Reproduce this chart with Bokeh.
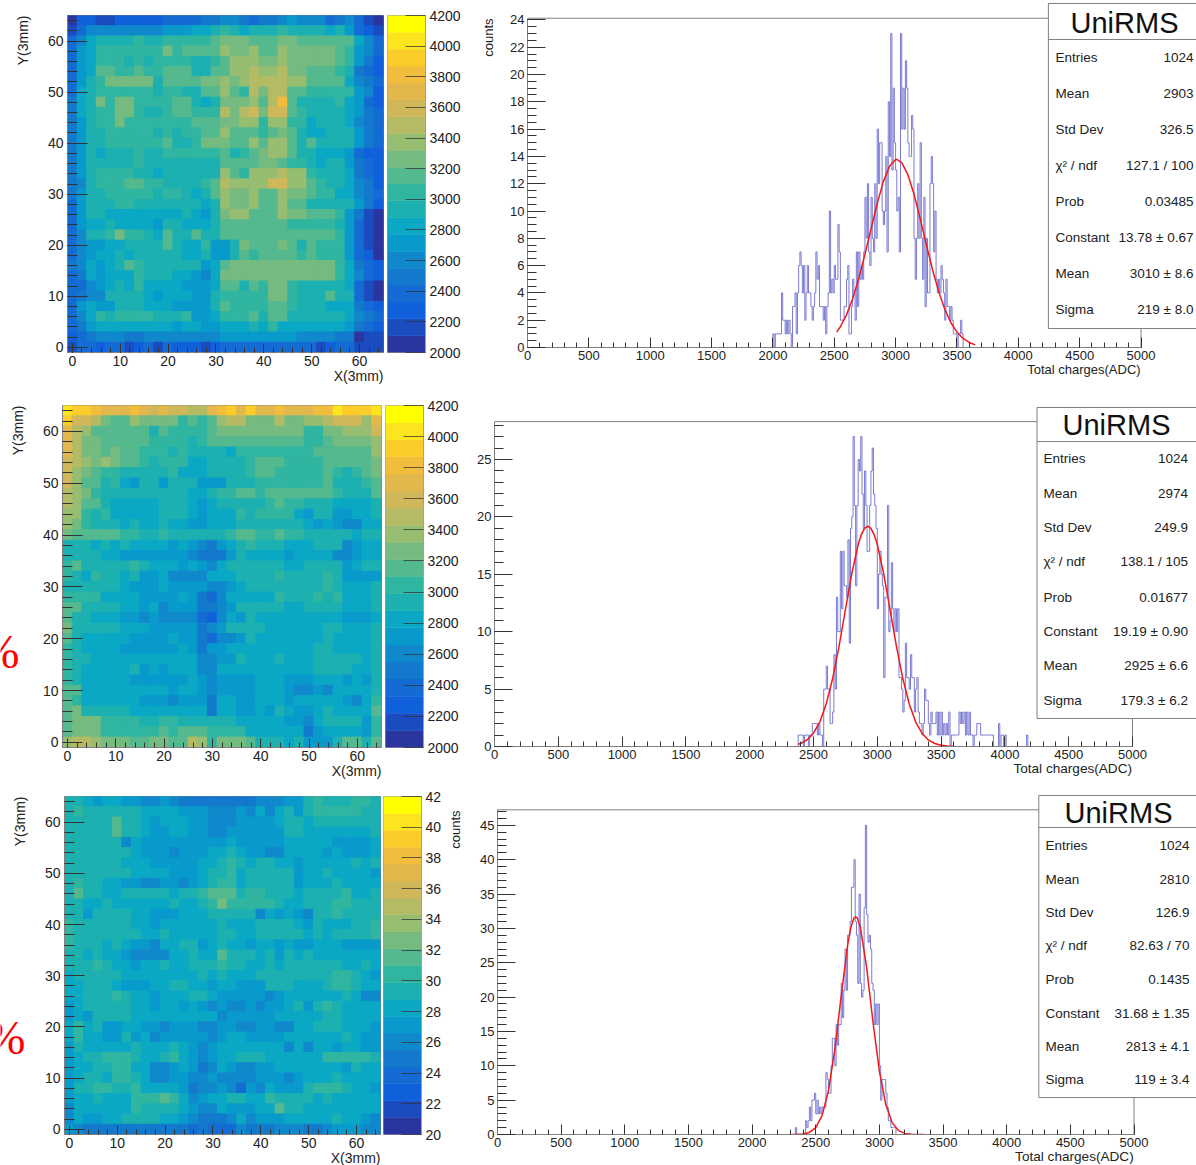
from bokeh.plotting import figure
from bokeh.layouts import column, row
from bokeh.embed import file_html
from bokeh.resources import INLINE
from bokeh.models import Label, LinearColorMapper, SingleIntervalTicker, ColumnDataSource

# colour bands of the z scale, bottom to top
PALETTE = ["#2a35a0", "#1a4cbf", "#1060dc", "#146bd4", "#1279cc", "#0f88cc", "#099acc", "#0aa8c4",
           "#1cb0b0", "#30b5a0", "#54b98e", "#75bb80", "#96bd70", "#b5bb65", "#d0b75a", "#e2b84d",
           "#f2bd3c", "#fbcc2a", "#fce41e", "#ffff00"]
Z_LOW, Z_HIGH = 2000, 4200
Z_TICKS_3 = {2000: "20", 2200: "22", 2400: "24", 2600: "26", 2800: "28", 3000: "30", 3200: "32",
             3400: "34", 3600: "36", 3800: "38", 4000: "40", 4200: "42"}

# each char = z band (base 20) of a cell; rows go top (y=64) to bottom (y=0), columns x=0..64
HEAT_1 = [
 "0221122222 3333445543 4456555345 310", "1355555555 6667789878 8898888786 321",
 "3578888988 99999abbba aabbaaaaaa 753", "3679999999 b9aaaacbbc aacbbbbba9 653",
 "3679998989 999889accc bbcbbbbba9 642", "367aa99a99 aaa88aaccd ccdbbaaa98 432",
 "3689bbbbb8 aaaabbcbcd dddccaaaa7 543", "3789999998 9988aaca9d bddaa99999 652",
 "478b9bb999 9aa878bbbc adga888897 632", "47899bb988 9aa999dbde beea988887 643",
 "46899b9999 999aaabbcc 9cc9978887 543", "4688999998 9899aacaaa 9aba877888 643",
 "4688999999 a889bbbaac acca8a8888 643", "4687888988 999999a89a bcca887776 322",
 "4688888988 888888aaaa bba9987886 432", "4689999887 888888ca9c ccdcc98887 432",
 "458999aa99 88889adccc ceecca9887 542", "4688999998 99878acbbc aacbba9977 543",
 "3688899888 888878cbbc aacaa88888 642", "3688777777 778768bcca aacbbaaa96 410",
 "3677877776 887778aaaa aaa9999986 310", "35889b9987 a88a88aaaa aaaaaaaa96 310",
 "3566778888 a8779668ba aaba8a9996 310", "3567787888 88778668a9 aaaa9a9996 320",
 "457678a988 888867abbb bbbbbbbb97 432", "3476777988 877657bbbb bbbbbbbb97 532",
 "3356787977 776667aa8a 9bb9888887 310", "3455888876 7776689999 9bb9888a88 310",
 "3676688877 766668a999 9aa9888777 432", "3579899998 889667999a 8aa8888887 543",
 "3467777777 7677667778 7977777776 432", "2345554455 5555556666 6666555544 011",
 "1332331231 3222123333 3333331233 111",
]
HEAT_2 = [
 "ihhgfffgfe feeddfghfh ffgfffggih hhi", "heedbaacbb bb9a9acddb bbdbbccdee ecf",
 "fdcaaaaaa8 a9999abbbb bbbbb99bbc cce", "fdbbaaaaa9 99989aaaaa aaaaa99abb bbc",
 "fdbbabaa99 9898888799 999999aaaa aac", "edcbcbaa98 9997788889 aaa9999aaa aab",
 "ecba998888 8977788889 aa99999a98 9ab", "ecaa897688 6888666888 9999999a88 89a",
 "dcb9888888 88877899aa 9aaaaaaa98 88a", "dcaa877777 8887678888 89a9988877 778",
 "cc98977777 8887677798 9999768866 778", "cb98887877 8776677788 8888876765 577",
 "baaaaa9988 98888889aa 99a9988888 788", "8887878777 7676546789 8887778885 677",
 "8888776666 6665444687 7776777755 677", "9a88888987 7767657888 8887788886 788",
 "9879887866 7555577788 8898888986 666", "8888887666 7666655678 8888888987 778",
 "9999777766 6676435777 7798889897 778", "aa88887767 5666445688 8887788887 778",
 "a887776656 5555325768 7777777776 667", "b888887776 6666456888 8777777887 778",
 "a877777666 6766435568 7777777877 778", "9877776666 6676466777 7777778877 778",
 "9887777777 7777556687 7787778888 878", "9877777867 6777557777 7777778888 778",
 "9877777666 6667656666 7776667776 768", "aa77777777 7677656666 7776556577 778",
 "a977777766 6566647766 7776777776 579", "ab88888777 7777747766 7687667877 77a",
 "abbb999988 9988888877 7776657888 869", "abbb999999 a9aaa99997 7777746777 769",
 "cddcbbbaab baadc9bbba 888786668a a8a",
]
HEAT_3 = [
 "8876776655 6544444444 5556689888 998", "8988888877 7766655565 7578689999 988",
 "88888a8876 7776655566 6678878888 888", "88888a8876 6776655666 6668877777 778",
 "8888885766 6666666766 6667777766 667", "8888888766 6566677876 6557777676 667",
 "8888887776 6666778987 8877677777 878", "8888888777 7666788978 8888677877 776",
 "8988776655 6656789978 8888677787 777", "8a88778888 87889aaa89 9888788889 778",
 "8877877777 787789b999 9987788899 888", "8868888776 6677788888 5767658898 888",
 "9888888776 7777778777 8888768777 889", "9888888877 8777778877 8888878788 889",
 "9888787665 7788678776 7767667776 666", "8878776555 577877a888 7868787777 777",
 "8889877677 8778889887 7878888887 787", "7888887777 7777878777 8888888899 876",
 "7788876667 7887767766 6888777899 877", "7788898776 7778876666 6567777778 755",
 "6788888776 7767656556 5667868987 777", "6768888777 7777775666 6677777887 777",
 "7978667766 5666556655 6655778887 776", "7977668675 6666656776 6667777778 766",
 "6877777877 7876567777 7775757767 766", "6788999877 8976567788 8777777999 998",
 "6778899775 5676457655 6677777776 877", "6788799875 5665565555 6665677787 777",
 "6889988977 7764556536 5766689998 776", "6778777999 a975677887 7988887877 777",
 "5777777988 8876557666 77a8877777 777", "5766778888 7765444575 6667777787 765",
 "6544444444 4443433354 4455544566 655",
]

# histogram bin counts, 10 ADC bins, first bin given by *_START
H1_START = 1990
H1 = [0, 1,0,1,1,1,1,1,4,2,2, 1,2,1,2,1,0,3,3,4,1, 4,6,7,6,4,6,2,4,6,4, 4,3,2,3,4,7,5,6,3,3,
      3,2,3,1,3,4,10,4,5,4, 6,5,5,9,7,2,2,2,3,3, 5,6,1,1,3,5,4,2,7,3, 7,5,6,5,7,11,8,12,7,6,
      11,8,7,12,8,16,12,15,15,10, 9,10,14,7,18,14,23,13,19,15, 13,10,11,7,23,16,19,16,21,19,
      15,14,14,17,16,8,5,8,12,8, 15,8,5,11,3,8,4,4,12,14, 12,7,10,5,4,5,4,6,5,4,
      2,5,3,3,2,3,2,1,1,1, 0,1,1,2,1,0]
H2_START = 2370
H2 = [0, 1,1,1,1,0,1,1,1,0,1, 1,2,2,2,2,1,2,1,1,0, 5,5,7,5,5,2,2,3,8,5, 13,10,10,17,12,17,14,14,13,18,
      9,19,20,27,21,14,21,25,24,27, 22,19,24,21,17,17,21,24,26,22, 21,19,12,15,17,15,14,6,13,13,
      21,10,11,16,12,10,12,10,12,6, 6,5,3,4,9,6,6,5,8,6, 6,3,5,6,3,2,2,1,2,5, 4,4,2,1,3,2,2,2,3,1,
      3,1,3,1,2,1,2,1,3,0, 1,1,1,1,1,1,3,2,3,2, 3,1,3,1,3,1,1,0,1,1, 2,2,2,1,1,1,1,1,1,1,
      1,1,1,0,0,0,0,2,0,1, 1,0,1,0,0,0,0,0,0,0, 0,0,0,0,0,0,0,0,0,1, 0]
H3_START = 2330
H3 = [0, 1,0,0,0,0,0,0,0,2,1, 2,4,2,5,5,6,3,5,3,4, 3,4,4,4,9,8,6,6,10,14, 14,10,16,13,16,16,22,17,21,27,
      21,29,29,31,36,36,40,31,29,22, 35,22,20,21,33,45,32,28,29,27, 22,21,16,19,16,19,10,5,8,8,
      8,6,4,2,2,1,1,1,1,0]

# fitted curves
F1_X = [2520,2550,2600,2650,2700,2750,2800,2850,2900,2950,3000,3010,3050,3100,3150,3200,3250,3300,3350,3400,3450,3500,3550,3600,3650]
F1_Y = [1.13,1.52,2.39,3.57,5.06,6.81,8.70,10.55,12.15,13.27,13.77,13.78,13.55,12.66,11.23,9.46,7.56,5.73,4.13,2.82,1.83,1.13,0.66,0.37,0.19]
F2_X = [2380,2400,2450,2500,2550,2600,2650,2700,2750,2800,2850,2875,2900,2925,2950,2975,3000,3050,3100,3150,3200,3250,3300,3350,3400,3450,3500,3550,3600]
F2_Y = [0.19,0.26,0.57,1.16,2.15,3.72,5.92,8.73,11.9,15.05,17.6,18.46,19.0,19.19,19.0,18.46,17.6,15.05,11.9,8.73,5.92,3.72,2.15,1.16,0.57,0.26,0.11,0.04,0.015]
F3_X = [2300,2350,2400,2450,2500,2550,2600,2650,2700,2750,2775,2800,2813,2825,2850,2900,2950,3000,3050,3100,3150,3200,3250,3300,3350]
F3_Y = [0,0.02,0.08,0.30,1.0,2.76,6.4,12.4,20.2,27.5,30.1,31.5,31.68,31.6,30.2,24.3,16.3,9.2,4.37,1.73,0.57,0.16,0.03,0.01,0]

STAT_NAMES = ["Entries", "Mean", "Std Dev", "χ² / ndf", "Prob", "Constant", "Mean", "Sigma"]
STAT_1 = ["1024", "2903", "326.5", "127.1 / 100", "0.03485", "13.78 ± 0.67", "3010 ± 8.6", "219 ± 8.0"]
STAT_2 = ["1024", "2974", "249.9", "138.1 / 105", "0.01677", "19.19 ± 0.90", "2925 ± 6.6", "179.3 ± 6.2"]
STAT_3 = ["1024", "2810", "126.9", "82.63 / 70", "0.1435", "31.68 ± 1.35", "2813 ± 4.1", "119 ± 3.4"]

FONT = "Liberation Sans"
TXT = "#222222"
GRAY = "#808080"

# full-page transparent layer that carries the texts lying outside the plot frames
overlay = figure(width=1196, height=1165, x_range=(0, 1196), y_range=(1165, 0), output_backend="svg",
                 title=None, toolbar_location=None, x_axis_location=None, y_axis_location=None,
                 min_border=0, outline_line_color=None, background_fill_color=None, border_fill_color=None,
                 frame_align=False, styles={"position": "absolute", "left": "0px", "top": "0px"})
overlay.grid.visible = False


def label(px, py, text, size, align="left", angle=0, color=TXT, font=FONT):
    overlay.add_layout(Label(x=px, y=py, text=text, text_font=font, text_font_size=f"{size}px", text_color=color,
                             text_align=align, text_baseline="middle", angle=angle, angle_units="deg"))


def style_axis(ax, size, major_in, minor_in):
    ax.axis_line_color = GRAY
    ax.major_tick_line_color = "#333333"
    ax.minor_tick_line_color = "#333333"
    ax.major_tick_in, ax.major_tick_out = major_in, 0
    ax.minor_tick_in, ax.minor_tick_out = minor_in, 0
    ax.major_label_text_font = FONT
    ax.major_label_text_font_size = f"{size}px"
    ax.major_label_text_color = TXT
    ax.major_label_standoff = 3


def heat_panel(rows, off_y, left, fw, top, fh, h, right=4, percent=None):
    p = figure(width=left + fw + right, height=h, x_range=(-1, 65), y_range=(-1, 65), output_backend="svg",
               title=None, toolbar_location=None, min_border_left=left, min_border_right=right, min_border_top=top,
               min_border_bottom=h - top - fh, outline_line_color=GRAY, background_fill_color=None,
               border_fill_color=None, frame_align=False)
    p.grid.visible = False
    mapper = LinearColorMapper(palette=PALETTE, low=Z_LOW, high=Z_HIGH)
    x0, x1, y0, y1, z = [], [], [], [], []
    for r, s in enumerate(rows):
        for c, ch in enumerate(s.replace(" ", "")):
            x0.append(-1 + 2 * c); x1.append(1 + 2 * c)
            y1.append(65 - 2 * r); y0.append(63 - 2 * r)
            z.append(Z_LOW + 110 * (int(ch, 20) + 0.5))
    src = ColumnDataSource(dict(x0=x0, x1=x1, y0=y0, y1=y1, z=z))
    fill = {"field": "z", "transform": mapper}
    p.quad(left="x0", right="x1", bottom="y0", top="y1", source=src, fill_color=fill, line_color=fill, line_width=1)
    p.xaxis.ticker = SingleIntervalTicker(interval=10, num_minor_ticks=5)
    p.yaxis.ticker = SingleIntervalTicker(interval=10, num_minor_ticks=5)
    style_axis(p.xaxis[0], 14, 9, 5)
    style_axis(p.yaxis[0], 14, 20, 10)
    p.yaxis[0].major_label_standoff = 4
    label(left + fw, off_y + top + fh + 23, "X(3mm)", 14, align="right")
    label(left - 45, off_y + top, "Y(3mm)", 14, align="right", angle=90)
    if percent:
        label(percent[0], percent[1], "%", 48, color="#ff0000", font="Liberation Serif")
    return p


def bar_panel(start_x, off_y, top, fh, h, right, overrides=None, counts=False):
    p = figure(width=38 + right, height=h, x_range=(0, 1), y_range=(Z_LOW, Z_HIGH), output_backend="svg",
               title=None, toolbar_location=None, x_axis_location=None, y_axis_location="right", min_border_left=0,
               min_border_right=right, min_border_top=top, min_border_bottom=h - top - fh,
               outline_line_color="#a0a0a0", background_fill_color=None, border_fill_color=None, frame_align=False)
    p.grid.visible = False
    step = (Z_HIGH - Z_LOW) / len(PALETTE)
    p.quad(left=0, right=1, bottom=[Z_LOW + i * step for i in range(20)], top=[Z_LOW + (i + 1) * step for i in range(20)],
           fill_color=PALETTE, line_color=PALETTE, line_width=0.5)
    ax = p.yaxis[0]
    ax.ticker = SingleIntervalTicker(interval=200, num_minor_ticks=0)
    style_axis(ax, 14, 20, 0)
    ax.axis_line_color = "#a0a0a0"
    ax.major_tick_line_alpha = 0.75
    ax.major_label_standoff = 4
    if overrides:
        ax.major_label_overrides = overrides
    if counts:
        label(455, off_y + top + 14, "counts", 13, align="right", angle=90)
    return p


def hist_panel(values, start, fx_vals, fy_vals, stats, off_y, h, x0px, sx, y0px, sy, ytop, yint, yminor, ybox,
               labx, valx, titlex, rows_y, hdr, title_y, boxl, title_size=13, counts=False):
    """x0px: page x of ADC 0, sx: px per ADC; y0px: page y of count 0, sy: px per count"""
    fig_left = 470
    left = round(x0px - fig_left)
    fw = 1196 - fig_left - left
    fh = y0px - off_y
    p = figure(width=726, height=h, x_range=(0, fw / sx), y_range=(0, fh / sy), output_backend="svg",
               title=None, toolbar_location=None, min_border_left=left, min_border_right=0, min_border_top=0,
               min_border_bottom=h - fh, outline_line_color=None, background_fill_color=None,
               border_fill_color=None, frame_align=False)
    p.grid.visible = False
    X = lambda px: (px - x0px) / sx
    Y = lambda py: (y0px - py) / sy
    xc = [start + 5 + 10 * i for i in range(len(values))]
    p.step(xc, values, mode="center", line_color="#5a5ac8", line_width=1, line_alpha=0.8)
    p.line(fx_vals, fy_vals, line_color="#f01818", line_width=1.5)
    p.line([0, X(boxl)], [ytop, ytop], line_color=GRAY, line_width=1)
    p.line([5000, 5000], [0, ytop], line_color=GRAY, line_width=1)
    p.quad(left=X(boxl), right=X(1230), bottom=Y(ybox[1]), top=Y(ybox[0]), fill_color="white", line_color=GRAY, line_width=1)
    p.line([X(boxl), X(1230)], [Y(hdr), Y(hdr)], line_color=GRAY, line_width=1)
    p.xaxis.ticker = SingleIntervalTicker(interval=500, num_minor_ticks=5)
    p.yaxis.ticker = SingleIntervalTicker(interval=yint, num_minor_ticks=yminor)
    p.xaxis.bounds = (0, 5000)
    p.yaxis.bounds = (0, ytop)
    style_axis(p.xaxis[0], 13, 10, 5)
    style_axis(p.yaxis[0], 13, 18, 9)
    label(titlex, title_y, "UniRMS", 29, align="center", color="#111111")
    for name, val, py in zip(STAT_NAMES, stats, rows_y):
        label(labx, py, name, 13.5)
        label(valx, py, val, 13.5, align="right")
    label(x0px + 5000 * sx, y0px + 22, "Total charges(ADC)", title_size, align="right")
    if counts:
        label(488, 18, "counts", 13, align="right", angle=90)
    return p


h1 = heat_panel(HEAT_1, 0, 67, 316, 15, 337, 390)
b1 = bar_panel(387, 0, 15, 337, 390, 45)
t1 = hist_panel(H1, H1_START, F1_X, F1_Y, STAT_1, 0, 390, 526.6, 0.1227, 347, 13.65, 24.12, 2, 4, (3, 328), 1055, 1193, 1124,
                [57, 93, 129, 165, 201, 237, 273, 309], 39, 22, 1047.5, counts=True)

h2 = heat_panel(HEAT_2, 390, 62, 319, 15, 342, 390, percent=(-21, 651))
b2 = bar_panel(385, 390, 15, 342, 390, 47)
t2 = hist_panel(H2, H2_START, F2_X, F2_Y, STAT_2, 390, 390, 493.5, 0.1276, 746, 11.48, 28.3, 5, 5, (407, 718), 1043, 1187.5, 1116,
                [458, 493, 527, 561, 597, 631, 665, 700], 441, 424, 1036, title_size=13.6)

h3 = heat_panel(HEAT_3, 780, 64, 316, 16, 338, 385, right=3, percent=(-15, 1037))
b3 = bar_panel(383, 780, 16, 338, 385, 49, overrides=Z_TICKS_3, counts=True)
t3 = hist_panel(H3, H3_START, F3_X, F3_Y, STAT_3, 780, 385, 496.7, 0.1273, 1134, 6.87, 47.26, 5, 5, (795, 1097), 1045, 1189, 1118,
                [845, 879, 912, 945, 979, 1013, 1046, 1079], 827, 812, 1038, title_size=13.6)

page = column(row(h1, b1, t1), row(h2, b2, t2), row(h3, b3, t3), overlay,
              styles={"position": "absolute", "left": "0px", "top": "0px"})

open("out.html", "w").write(file_html(page, INLINE))
